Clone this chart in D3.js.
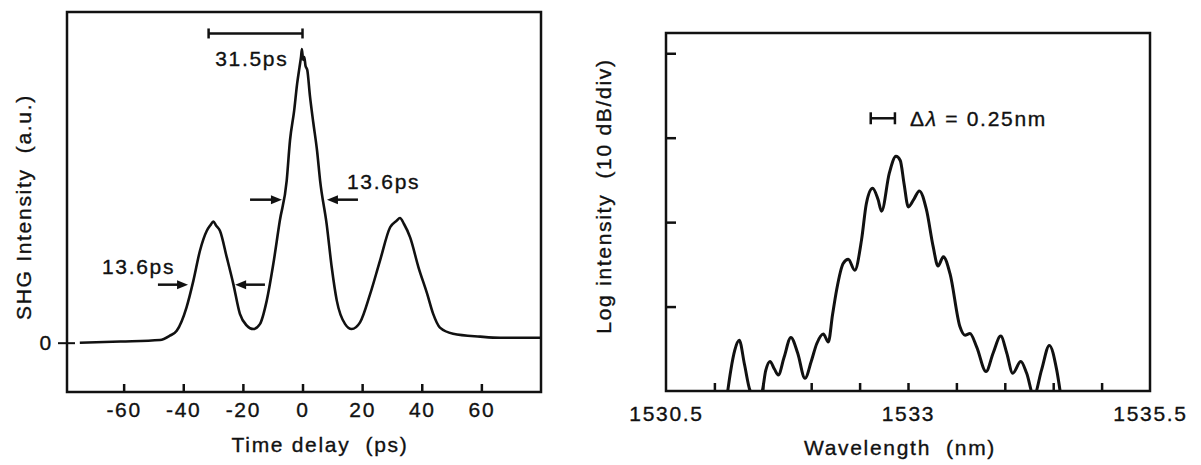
<!DOCTYPE html>
<html>
<head>
<meta charset="utf-8">
<script src="https://cdn.jsdelivr.net/npm/d3@7"></script>
<style>
  body { margin: 0; background: #fff; }
  svg text { font-family: "Liberation Sans", Arial, sans-serif; font-size: 21px; letter-spacing: 1.7px;
    fill: #111; stroke: #111; stroke-width: 0.35px; white-space: pre; }
</style>
</head>
<body>
<div id="chart"></div>
<script>
// ---- left panel: SHG autocorrelation trace ----
const delayPs = [-74.7, -61, -47.8, -44.5, -42.2, -38.9, -36.6, -34.4, -32.1, -30.9, -29.9, -29.0, -27.7, -25.4, -23.2, -21.0,
  -18.7, -16.5, -14.3, -12.0, -9.8, -7.6, -5.3, -4.2, -2.8, -1.8, -1.0, -0.5, -0.2, 0.2, 0.6, 1.0, 1.6, 2.5, 3.6, 4.9,
  5.9, 8.1, 9.8, 11.5, 14.3, 16.5, 19.3, 22.7, 26.0, 29.4, 31.5, 32.7, 34.0, 36.1, 38.9, 41.8, 43.8, 46.1, 50.5, 59.6, 66.3, 80];
const shg = [0.0, 0.004, 0.009, 0.024, 0.041, 0.122, 0.214, 0.317, 0.386, 0.405, 0.418, 0.404, 0.386, 0.294, 0.202, 0.099,
  0.059, 0.047, 0.064, 0.145, 0.271, 0.421, 0.559, 0.697, 0.80, 0.893, 0.95, 0.985, 1.012, 0.975, 0.985, 0.955, 0.94, 0.85, 0.76, 0.66,
  0.559, 0.409, 0.26, 0.145, 0.064, 0.047, 0.07, 0.168, 0.283, 0.398, 0.42, 0.43, 0.41, 0.363, 0.26, 0.169, 0.10, 0.052, 0.031, 0.021, 0.017, 0.017];
const delayTicks = [-60, -40, -20, 0, 20, 40, 60];

// FWHM arrows (ps) and separation bar
const fwhmArrows = [
  { from: -48.5, to: -38.4, level: 0.2 },
  { from: -12.6, to: -22.6, level: 0.2 },
  { from: -17.6, to: -6.9, level: 0.493 },
  { from: 18.6, to: 8.2, level: 0.493 }
];
const sepBar = { from: -31.5, to: 0, level: 1.066 };
const leftLabels = [
  { t: -17, level: 0.953, text: "31.5ps" },
  { t: -55, level: 0.238, text: "13.6ps" },
  { t: 27.2, level: 0.529, text: "13.6ps" }
];

// ---- right panel: optical spectrum (dB, 10 dB/div) ----
const wavelength = [1531.12, 1531.17, 1531.21, 1531.257, 1531.31, 1531.37, 1531.42, 1531.49, 1531.53, 1531.574, 1531.62, 1531.66,
  1531.72, 1531.79, 1531.86, 1531.936, 1532.00, 1532.057, 1532.125, 1532.177, 1532.22, 1532.263, 1532.33, 1532.383, 1532.45,
  1532.52, 1532.57, 1532.634, 1532.69, 1532.727, 1532.807, 1532.876, 1532.92, 1532.96, 1533.003, 1533.06, 1533.117, 1533.19,
  1533.26, 1533.31, 1533.365, 1533.434, 1533.537, 1533.589, 1533.64, 1533.71, 1533.806, 1533.88, 1533.958, 1534.02, 1534.082,
  1534.165, 1534.226, 1534.30, 1534.38, 1534.46, 1534.536, 1534.59];
const powerDb = [-41.5, -37.5, -35.2, -34.0, -36.8, -40.0, -40.6, -40.1, -37.6, -36.5, -37.4, -38.1,
  -36, -33.65, -35.5, -38.5, -36.5, -34.4, -33.25, -34.2, -31, -28.0, -24.9, -24.4, -25.7,
  -22.1, -17.8, -16.0, -17.3, -18.7, -14.2, -12.2, -12.7, -15.5, -18.2, -17.3, -16.3, -18.5,
  -22.9, -25.2, -24.1, -26.1, -32.4, -33.4, -33.2, -34.8, -37.7, -35.5, -33.5, -35.5, -37.9,
  -36.5, -37.9, -40.6, -37.5, -34.6, -37.5, -41.5];
const wlMinorTicks = [1531, 1531.5, 1532, 1532.5, 1533, 1533.5, 1534, 1534.5, 1535];
const wlLabels = [1530.5, 1533, 1535.5];
const dbTicks = [-30, -20, -10, 0];
const resBar = { from: 1532.615, to: 1532.865, level: -7.7 };

const svg = d3.select("#chart").append("svg").attr("width", 1201).attr("height", 465);
const ink = "#111";

// ================= left panel =================
const xL = d3.scaleLinear().domain([-79, 80]).range([67, 541]);
const yL = d3.scaleLinear().domain([-0.17, 1.14]).range([392, 12]);

const gL = svg.append("g");
gL.append("rect").attr("x", 67).attr("y", 12).attr("width", 474).attr("height", 380)
  .attr("fill", "none").attr("stroke", ink).attr("stroke-width", 2.5);

const axL = gL.append("g").attr("transform", "translate(0,392)")
  .call(d3.axisBottom(xL).tickValues(delayTicks).tickSize(-8).tickPadding(10).tickFormat(d => String(d)));
axL.select(".domain").remove();
axL.selectAll(".tick line").attr("stroke", ink).attr("stroke-width", 2.5);
axL.selectAll("text").attr("font-size", null).attr("font-family", null);

const ayL = gL.append("g").attr("transform", "translate(67,0)")
  .call(d3.axisLeft(yL).tickValues([0]).tickSize(9).tickPadding(5).tickFormat(d => String(d)));
ayL.select(".domain").remove();
ayL.selectAll(".tick line").attr("x1", 8).attr("stroke", ink).attr("stroke-width", 2);
ayL.selectAll("text").attr("font-size", null).attr("font-family", null);

const lineL = d3.line().x(d => xL(d[0])).y(d => yL(d[1])).curve(d3.curveMonotoneX);
gL.append("path").datum(d3.zip(delayPs, shg)).attr("d", lineL)
  .attr("fill", "none").attr("stroke", ink).attr("stroke-width", 2.6).attr("stroke-linejoin", "round");

// separation bar
gL.append("line").attr("x1", xL(sepBar.from)).attr("x2", xL(sepBar.to))
  .attr("y1", yL(sepBar.level)).attr("y2", yL(sepBar.level)).attr("stroke", ink).attr("stroke-width", 2.5);
[sepBar.from, sepBar.to].forEach(t => {
  gL.append("line").attr("x1", xL(t)).attr("x2", xL(t))
    .attr("y1", yL(sepBar.level) - 5).attr("y2", yL(sepBar.level) + 5).attr("stroke", ink).attr("stroke-width", 2.5);
});

// arrows
function arrow(g, x1, x2, y) {
  const dir = Math.sign(x2 - x1);
  g.append("line").attr("x1", x1).attr("x2", x2 - dir * 8).attr("y1", y).attr("y2", y)
    .attr("stroke", ink).attr("stroke-width", 2.5);
  g.append("path").attr("d", `M${x2},${y}L${x2 - dir * 11},${y - 4.5}L${x2 - dir * 11},${y + 4.5}Z`).attr("fill", ink);
}
fwhmArrows.forEach(a => arrow(gL, xL(a.from), xL(a.to), yL(a.level)));

gL.selectAll("text.ann").data(leftLabels).enter().append("text").attr("class", "ann")
  .attr("x", d => xL(d.t)).attr("y", d => yL(d.level)).attr("text-anchor", "middle").text(d => d.text);

gL.append("text").attr("x", 320).attr("y", 452).attr("text-anchor", "middle").text("Time delay  (ps)");
gL.append("text").attr("transform", "translate(31,207) rotate(-90)").attr("text-anchor", "middle")
  .text("SHG Intensity  (a.u.)");

// ================= right panel =================
const xR = d3.scaleLinear().domain([1530.5, 1535.5]).range([666, 1150]);
const yR = d3.scaleLinear().domain([-40, 2.4]).range([391, 33]);

const gR = svg.append("g");
gR.append("defs").append("clipPath").attr("id", "clipR").append("rect")
  .attr("x", 666).attr("y", 33).attr("width", 484).attr("height", 358);

const lineR = d3.line().x(d => xR(d[0])).y(d => yR(d[1])).curve(d3.curveMonotoneX);
gR.append("path").datum(d3.zip(wavelength, powerDb)).attr("d", lineR).attr("clip-path", "url(#clipR)")
  .attr("fill", "none").attr("stroke", ink).attr("stroke-width", 3).attr("stroke-linejoin", "round");

gR.append("rect").attr("x", 666).attr("y", 33).attr("width", 484).attr("height", 358)
  .attr("fill", "none").attr("stroke", ink).attr("stroke-width", 2.5);

const axR = gR.append("g").attr("transform", "translate(0,391)")
  .call(d3.axisBottom(xR).tickValues(wlMinorTicks).tickSize(-8).tickFormat(""));
axR.select(".domain").remove();
axR.selectAll(".tick line").attr("stroke", ink).attr("stroke-width", 2.5);

const axR2 = gR.append("g").attr("transform", "translate(0,391)")
  .call(d3.axisBottom(xR).tickValues(wlLabels).tickSize(0).tickPadding(15).tickFormat(d => String(d)));
axR2.select(".domain").remove();
axR2.selectAll("text").attr("font-size", null).attr("font-family", null);

const ayR = gR.append("g").attr("transform", "translate(666,0)")
  .call(d3.axisLeft(yR).tickValues(dbTicks).tickSize(-10).tickFormat(""));
ayR.select(".domain").remove();
ayR.selectAll(".tick line").attr("stroke", ink).attr("stroke-width", 2.5);

// resolution bar
const ry = yR(resBar.level);
gR.append("line").attr("x1", xR(resBar.from)).attr("x2", xR(resBar.to)).attr("y1", ry).attr("y2", ry)
  .attr("stroke", ink).attr("stroke-width", 2.5);
[resBar.from, resBar.to].forEach(w => {
  gR.append("line").attr("x1", xR(w)).attr("x2", xR(w)).attr("y1", ry - 6).attr("y2", ry + 6)
    .attr("stroke", ink).attr("stroke-width", 2.5);
});
const resText = gR.append("text").attr("x", xR(1533.02)).attr("y", yR(-8.6));
resText.append("tspan").text("Δ");
resText.append("tspan").attr("font-style", "italic").text("λ");
resText.append("tspan").text(" = 0.25nm");

gR.append("text").attr("x", 900).attr("y", 455).attr("text-anchor", "middle").text("Wavelength  (nm)");
gR.append("text").attr("transform", "translate(611,196) rotate(-90)").attr("text-anchor", "middle")
  .text("Log intensity  (10 dB/div)");
</script>
</body>
</html>
